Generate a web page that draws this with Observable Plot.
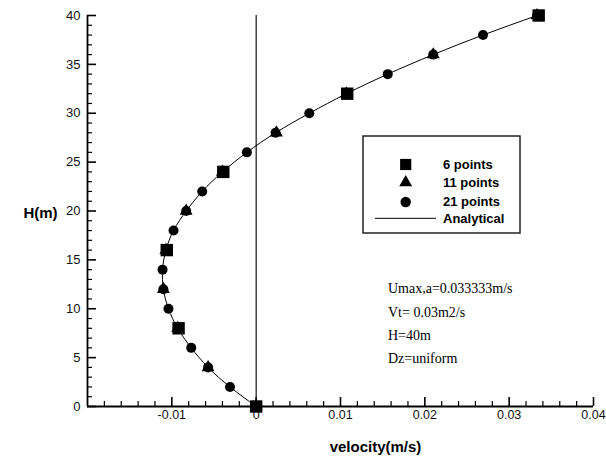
<!DOCTYPE html>
<html><head><meta charset="utf-8">
<script src="https://cdn.jsdelivr.net/npm/d3@7"></script>
<script src="https://cdn.jsdelivr.net/npm/@observablehq/plot@0.6"></script>
<style>
html,body{margin:0;padding:0;background:#fff}
#chart{position:relative;width:606px;height:461px}
</style>
</head><body><div id="chart"></div>
<script>
// ---- data ----
const analyticalH = [0,2,4,6,8,10,12,14,16,18,20,22,24,26,28,30,32,34,36,38,40];
const analyticalU = [0,-0.0031,-0.0057,-0.0077,-0.0093,-0.0104,-0.0110,-0.0111,-0.0107,-0.0098,-0.0083,-0.0064,-0.0040,-0.0011,0.0023,0.0063,0.0107,0.0156,0.0210,0.0269,0.0333];

const pts21H = [0,2,4,6,8,10,12,14,16,18,20,22,24,26,28,30,32,34,36,38,40];
const pts21U = [0,-0.0031,-0.0057,-0.0077,-0.0093,-0.0104,-0.0110,-0.0111,-0.0107,-0.0098,-0.0083,-0.0064,-0.0040,-0.0011,0.0023,0.0063,0.0107,0.0156,0.0210,0.0269,0.0333];

const pts11H = [0,4,8,12,16,20,24,28,32,36,40];
const pts11U = [0,-0.0057,-0.0093,-0.0110,-0.0107,-0.0083,-0.0040,0.0024,0.0107,0.0210,0.0333];

const pts6H = [0,8,16,24,32,40];
const pts6U = [0,-0.0092,-0.0106,-0.0039,0.0108,0.0335];

const xMajorTicks = [-0.01,0,0.01,0.02,0.03,0.04];
const xMinorTicks = [-0.018,-0.016,-0.014,-0.012,-0.008,-0.006,-0.004,-0.002,0.002,0.004,0.006,0.008,0.012,0.014,0.016,0.018,0.022,0.024,0.026,0.028,0.032,0.034,0.036,0.038];
const yMajorTicks = [0,5,10,15,20,25,30,35,40];
const yMinorTicks = [1,2,3,4,6,7,8,9,11,12,13,14,16,17,18,19,21,22,23,24,26,27,28,29,31,32,33,34,36,37,38,39];

const xLabel = "velocity(m/s)";
const yLabel = "H(m)";
const legendLabels = ["6 points","11 points","21 points","Analytical"];
const notes = ["Umax,a=0.033333m/s","Vt= 0.03m2/s","H=40m","Dz=uniform"];

// ---- tables ----
const analytical = analyticalH.map((h,i)=>({h, u: analyticalU[i]}));
const s21 = pts21H.map((h,i)=>({h, u: pts21U[i]}));
const s11 = pts11H.map((h,i)=>({h, u: pts11U[i]}));
const s6 = pts6H.map((h,i)=>({h, u: pts6U[i]}));

const plot = Plot.plot({
  width: 606, height: 461,
  marginLeft: 87, marginRight: 13, marginTop: 15, marginBottom: 55,
  x: {domain: [-0.02, 0.04]},
  y: {domain: [0, 40]},
  style: {fontFamily: "'Liberation Sans', Arial, sans-serif", fontSize: "12.5px", color: "#000", background: "#fff"},
  marks: [
    Plot.axisX(xMinorTicks, {tickSize: 5, dy: -5, text: null, label: null, strokeWidth: 1.2}),
    Plot.axisX(xMajorTicks, {tickSize: 9, dy: -9, text: null, label: null, strokeWidth: 1.6}),
    Plot.axisX(xMajorTicks, {tickSize: 0, tickPadding: 4, tickFormat: d => String(d), label: null, fontSize: 12.5, fill: "#111"}),
    Plot.axisY(yMinorTicks, {tickSize: 5, dx: 5, text: null, label: null, strokeWidth: 1.2}),
    Plot.axisY(yMajorTicks, {tickSize: 9, dx: 9, text: null, label: null, strokeWidth: 1.6}),
    Plot.axisY(yMajorTicks, {tickSize: 0, tickPadding: 7, tickFormat: d => String(d), label: null, fontSize: 13, fill: "#111"}),
    Plot.ruleY([0], {stroke: "#000", strokeWidth: 1.8}),
    Plot.ruleX([-0.02], {stroke: "#000", strokeWidth: 1.8}),
    Plot.ruleX([0], {y1: 0, y2: 40, stroke: "#000", strokeWidth: 1.1}),
    Plot.line(analytical, {x: "u", y: "h", curve: "natural", stroke: "#000", strokeWidth: 1}),
    Plot.dot(s21, {x: "u", y: "h", symbol: "circle", r: 5, fill: "#000", stroke: "none"}),
    Plot.dot(s11, {x: "u", y: "h", symbol: "triangle", r: 4.8, fill: "#000", stroke: "none"}),
    Plot.dot(s6, {x: "u", y: "h", symbol: "square", r: 7, fill: "#000", stroke: "none"}),
    Plot.text([yLabel], {text: d => d, frameAnchor: "left", textAnchor: "middle", lineAnchor: "middle", dx: -47, dy: 2, fontWeight: "bold", fontSize: 15}),
    Plot.text([xLabel], {text: d => d, frameAnchor: "bottom", textAnchor: "middle", lineAnchor: "middle", dx: 35, dy: 41, fontWeight: "bold", fontSize: 15})
  ]
});
document.getElementById("chart").appendChild(plot);

// ---- legend and notes inside the plot ----
const svg = d3.select(plot);
const lg = svg.append("g");
lg.append("rect").attr("x", 363).attr("y", 136).attr("width", 157).attr("height", 97)
  .attr("fill", "#fff").attr("stroke", "#222").attr("stroke-width", 1.5);
const symTypes = [d3.symbolSquare, d3.symbolTriangle, d3.symbolCircle];
const symR = [6.3, 4.8, 5.2];
const rowY = [164.5, 182.5, 202, 218.3];
symTypes.forEach((t,i)=>{
  lg.append("path").attr("d", d3.symbol(t, Math.PI*symR[i]*symR[i])())
    .attr("transform", `translate(405.7,${rowY[i]})`).attr("fill", "#000");
});
lg.append("line").attr("x1", 375).attr("x2", 436).attr("y1", rowY[3]).attr("y2", rowY[3])
  .attr("stroke", "#000").attr("stroke-width", 1);
const textY = [164, 182, 201, 218.5];
legendLabels.forEach((s,i)=>{
  lg.append("text").attr("x", 443).attr("y", textY[i]).attr("dy", "0.36em")
    .attr("text-anchor", "start")
    .attr("font-family", "'Liberation Sans', Arial, sans-serif").attr("font-weight", "bold")
    .attr("font-size", 13).attr("fill", "#000").text(s);
});
const ng = svg.append("g");
notes.forEach((s,i)=>{
  ng.append("text").attr("x", 388).attr("y", 293.3 + i*23.2)
    .attr("text-anchor", "start")
    .attr("font-family", "'Liberation Serif', 'Times New Roman', serif")
    .attr("font-size", 14).attr("fill", "#000").text(s);
});
</script>
</body></html>
